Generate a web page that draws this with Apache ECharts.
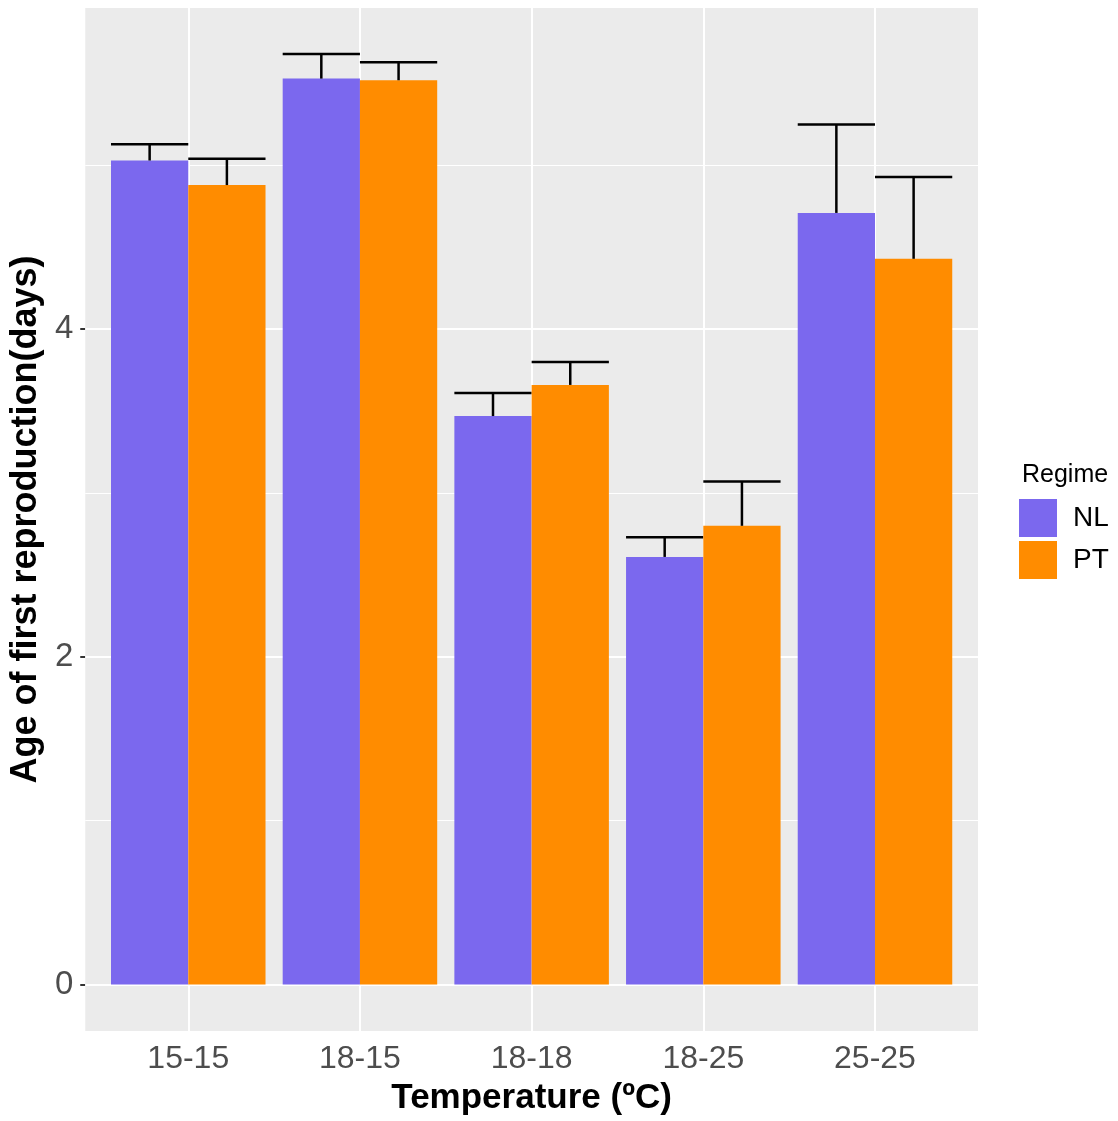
<!DOCTYPE html>
<html>
<head>
<meta charset="utf-8">
<script src="https://cdn.jsdelivr.net/npm/echarts@6/dist/echarts.min.js"></script>
<style>
html,body{margin:0;padding:0;background:#fff;}
#chart{width:1118px;height:1121px;}
</style>
</head>
<body>
<div id="chart"></div>
<script>
// ---- data ----
const categories = ['15-15', '18-15', '18-18', '18-25', '25-25'];
const regimes = ['NL', 'PT'];
const nlMean = [5.03, 5.53, 3.47, 2.61, 4.71];
const nlSE   = [0.10, 0.15, 0.14, 0.12, 0.54];
const ptMean = [4.88, 5.52, 3.66, 2.80, 4.43];
const ptSE   = [0.16, 0.11, 0.14, 0.27, 0.50];
const yMajorTicks = [0, 2, 4];
const yMinorTicks = [1, 3, 5];
const xTickPositions = [1, 2, 3, 4, 5];

const colors = {NL: '#7B68EE', PT: '#FF8C00'};
const barHalf = 0.225; // half of dodged bar width (0.9 / 2 / 2)

function makeRender(offset) {
  return function (params, api) {
    const x = api.value(0) + offset;
    const y = api.value(1);
    const se = api.value(2);
    const p0 = api.coord([x - barHalf, 0]);
    const p1 = api.coord([x + barHalf, y]);
    const pc = api.coord([x, y]);
    const pt = api.coord([x, y + se]);
    return {
      type: 'group',
      children: [
        {type: 'rect', shape: {x: p0[0], y: p1[1], width: p1[0] - p0[0], height: p0[1] - p1[1]},
         style: {fill: api.visual('color')}},
        {type: 'line', shape: {x1: pc[0], y1: pc[1], x2: pt[0], y2: pt[1]},
         style: {stroke: '#000', lineWidth: 2.5}},
        {type: 'line', shape: {x1: p0[0], y1: pt[1], x2: p1[0], y2: pt[1]},
         style: {stroke: '#000', lineWidth: 2.5}}
      ]
    };
  };
}

const gridLines = []
  .concat(yMajorTicks.map(v => ({yAxis: v, lineStyle: {width: 2}})))
  .concat(yMinorTicks.map(v => ({yAxis: v, lineStyle: {width: 1}})))
  .concat(xTickPositions.map(v => ({xAxis: v, lineStyle: {width: 2}})));

const chart = echarts.init(document.getElementById('chart'), null, {renderer: 'canvas'});
chart.setOption({
  animation: false,
  backgroundColor: '#ffffff',
  color: [colors.NL, colors.PT],
  title: {
    text: 'Regime', left: 1022, top: 463,
    textStyle: {fontFamily: 'Liberation Sans, Arial, sans-serif', fontSize: 25, fontWeight: 'normal', color: '#000'},
    padding: 0
  },
  legend: {
    orient: 'vertical', left: 1019, top: 499, padding: 0,
    itemWidth: 38, itemHeight: 38, itemGap: 4,
    data: regimes.map(r => ({name: r, icon: 'rect'})),
    textStyle: {fontFamily: 'Liberation Sans, Arial, sans-serif', fontSize: 28, color: '#000', padding: [0, 0, 0, 11]}
  },
  grid: {
    left: 82, top: 8, width: 896, height: 1023,
    show: true, backgroundColor: '#EBEBEB', borderWidth: 0
  },
  xAxis: {
    type: 'value', min: 0.4, max: 5.6,
    name: 'Temperature (ºC)', nameLocation: 'middle', nameGap: 50,
    nameTextStyle: {fontFamily: 'Liberation Sans, Arial, sans-serif', fontSize: 35, fontWeight: 'bold', color: '#000'},
    axisLine: {show: false},
    axisTick: {show: true, customValues: xTickPositions, length: 5, lineStyle: {color: '#333', width: 2}},
    axisLabel: {show: true, customValues: xTickPositions, margin: 12,
      formatter: v => categories[Math.round(v) - 1],
      fontFamily: 'Liberation Sans, Arial, sans-serif', fontSize: 32, color: '#4D4D4D'},
    splitLine: {show: false}
  },
  yAxis: {
    type: 'value', min: -0.284, max: 5.961,
    name: 'Age of first reproduction(days)', nameLocation: 'middle', nameGap: 33,
    nameTextStyle: {fontFamily: 'Liberation Sans, Arial, sans-serif', fontSize: 36, fontWeight: 'bold', color: '#000'},
    axisLine: {show: false},
    axisTick: {show: true, customValues: yMajorTicks, length: 5, lineStyle: {color: '#333', width: 2}},
    axisLabel: {show: true, customValues: yMajorTicks, margin: 12,
      fontFamily: 'Liberation Sans, Arial, sans-serif', fontSize: 33, color: '#4D4D4D'},
    splitLine: {show: false}
  },
  series: [
    {
      name: 'NL', type: 'custom', z: 3,
      itemStyle: {color: colors.NL},
      renderItem: makeRender(-barHalf),
      data: categories.map((c, i) => [i + 1, nlMean[i], nlSE[i]]),
      encode: {x: 0, y: [1, 2]},
      markLine: {
        silent: true, symbol: 'none', z: 1, animation: false,
        label: {show: false},
        lineStyle: {color: '#ffffff', type: 'solid'},
        emphasis: {disabled: true},
        data: gridLines
      }
    },
    {
      name: 'PT', type: 'custom', z: 3,
      itemStyle: {color: colors.PT},
      renderItem: makeRender(barHalf),
      data: categories.map((c, i) => [i + 1, ptMean[i], ptSE[i]]),
      encode: {x: 0, y: [1, 2]}
    }
  ]
});
</script>
</body>
</html>
